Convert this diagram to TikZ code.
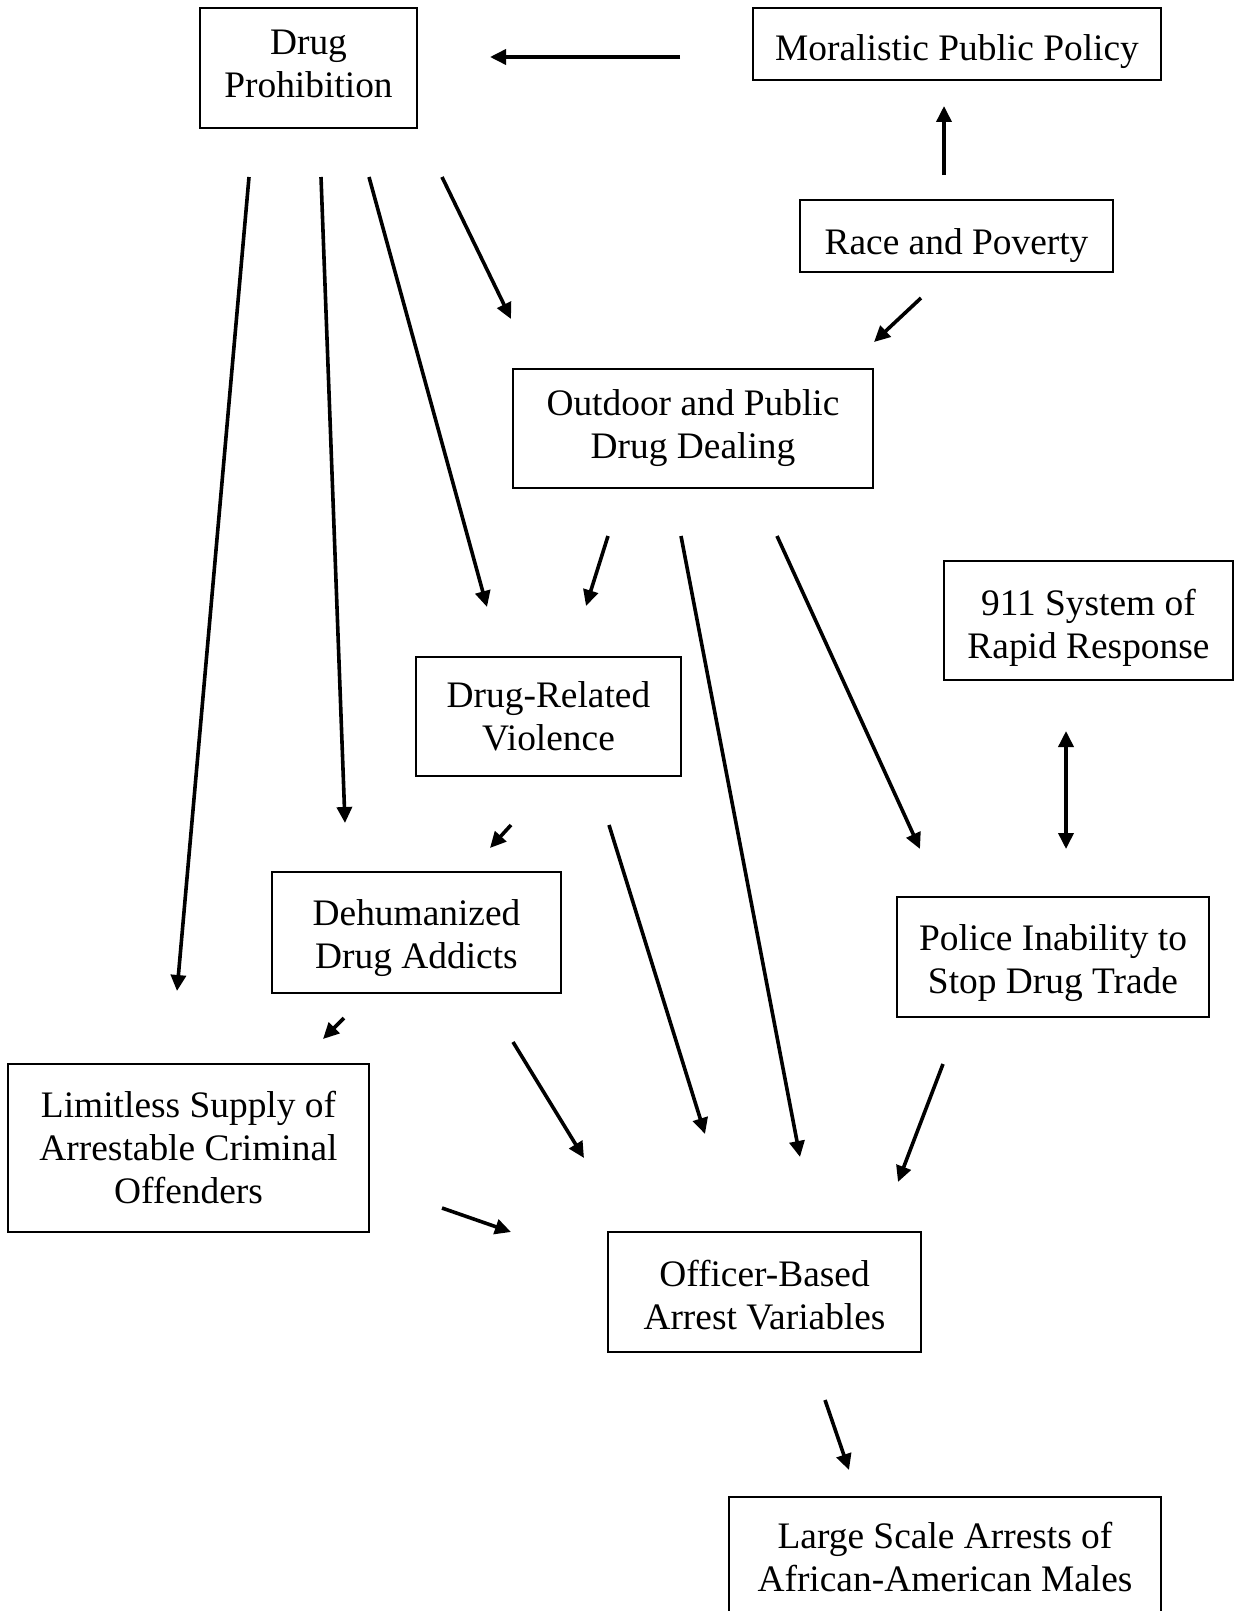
\documentclass[tikz,border=0pt]{standalone}
\usepackage{fontspec}
\setmainfont{Liberation Serif}
\usetikzlibrary{arrows.meta}

\begin{document}
\begin{tikzpicture}[x=0.5pt,y=-0.5pt,
		>={Triangle[length=8pt,width=7.5pt]},
		box/.style={rectangle,draw,line width=1pt,inner sep=0pt,align=center,
			font=\fontsize{18.7}{21.5}\selectfont},
		link/.style={->,line width=1.8pt}]
		\useasboundingbox (0,0) rectangle (1235,1611);
		\clip (0,0) rectangle (1235,1611);

		\draw (308.5,68) node (prohib) [box,minimum width=108.5pt,minimum height=60pt] {Drug\\Prohibition\rule[-4pt]{0pt}{4pt}};
		\draw (957,44) node (moral) [box,minimum width=204pt,minimum height=36pt] {\rule{0pt}{21pt}Moralistic Public Policy};
		\draw (956.5,236) node (race) [box,minimum width=156.5pt,minimum height=36pt] {\rule{0pt}{23pt}Race and Poverty};
		\draw (693,428.5) node (outdoor) [box,minimum width=180pt,minimum height=59.5pt] {Outdoor and Public\\Drug Dealing};
		\draw (1088.5,620.5) node (rapid) [box,minimum width=144.5pt,minimum height=59.5pt] {\rule{0pt}{20pt}911 System of\\Rapid Response};
		\draw (548.5,716.5) node (violence) [box,minimum width=132.5pt,minimum height=59.5pt] {Drug-Related\\Violence};
		\draw (416.5,932.5) node (addicts) [box,minimum width=144.5pt,minimum height=60.5pt] {\rule{0pt}{19pt}Dehumanized\\Drug Addicts};
		\draw (1053,957) node (police) [box,minimum width=156pt,minimum height=60pt] {\rule{0pt}{19pt}Police Inability to\\Stop Drug Trade};
		\draw (188.5,1148) node (supply) [box,minimum width=180.5pt,minimum height=84pt] {Limitless Supply of\\Arrestable Criminal\\Offenders};
		\draw (764.5,1292) node (officer) [box,minimum width=156.5pt,minimum height=60pt] {\rule{0pt}{16pt}Officer-Based\\Arrest Variables};
		\draw (945,1557) node (arrests) [box,minimum width=216pt,minimum height=60pt] {Large Scale Arrests of\\African-American Males};

		% arrow ends
		\coordinate (moral-w) at (680,57);   \coordinate (prohib-e) at (490,57);
		\coordinate (race-n) at (944,175);   \coordinate (moral-s) at (944,106);
		\coordinate (race-sw) at (921,298);  \coordinate (outdoor-ne) at (874,342);
		\coordinate (prohib-s1) at (442,177); \coordinate (outdoor-nw) at (511,319);
		\coordinate (prohib-s2) at (369,177); \coordinate (violence-n) at (487,607);
		\coordinate (prohib-s3) at (321,177); \coordinate (addicts-n) at (345,823);
		\coordinate (prohib-s4) at (249,177); \coordinate (supply-n) at (177,991);
		\coordinate (outdoor-s1) at (608,536); \coordinate (violence-ne) at (586,606);
		\coordinate (outdoor-s2) at (681,536); \coordinate (officer-n1) at (800,1157);
		\coordinate (outdoor-s3) at (777,536); \coordinate (police-nw) at (920,849);
		\coordinate (rapid-s) at (1066,731);  \coordinate (police-n) at (1066,849);
		\coordinate (violence-s1) at (511,825); \coordinate (addicts-ne) at (490,848);
		\coordinate (violence-s2) at (609,825); \coordinate (officer-n2) at (705,1134);
		\coordinate (addicts-s1) at (344,1018); \coordinate (supply-ne) at (323,1039);
		\coordinate (addicts-s2) at (513,1042); \coordinate (officer-nw) at (584,1158);
		\coordinate (police-s) at (943,1064);  \coordinate (officer-ne) at (898,1182);
		\coordinate (supply-e) at (442,1208);  \coordinate (officer-w) at (511,1232);
		\coordinate (officer-s) at (825,1400); \coordinate (arrests-n) at (849,1470);

		\draw[link] (moral-w) to (prohib-e);
		\draw[link] (race-n) to (moral-s);
		\draw[link] (race-sw) to (outdoor-ne);
		\draw[link] (prohib-s1) to (outdoor-nw);
		\draw[link] (prohib-s2) to (violence-n);
		\draw[link] (prohib-s3) to (addicts-n);
		\draw[link] (prohib-s4) to (supply-n);
		\draw[link] (outdoor-s1) to (violence-ne);
		\draw[link] (outdoor-s2) to (officer-n1);
		\draw[link] (outdoor-s3) to (police-nw);
		\draw[link,<->] (rapid-s) to (police-n);
		\draw[link] (violence-s1) to (addicts-ne);
		\draw[link] (violence-s2) to (officer-n2);
		\draw[link] (addicts-s1) to (supply-ne);
		\draw[link] (addicts-s2) to (officer-nw);
		\draw[link] (police-s) to (officer-ne);
		\draw[link] (supply-e) to (officer-w);
		\draw[link] (officer-s) to (arrests-n);
	\end{tikzpicture}
\end{document}
